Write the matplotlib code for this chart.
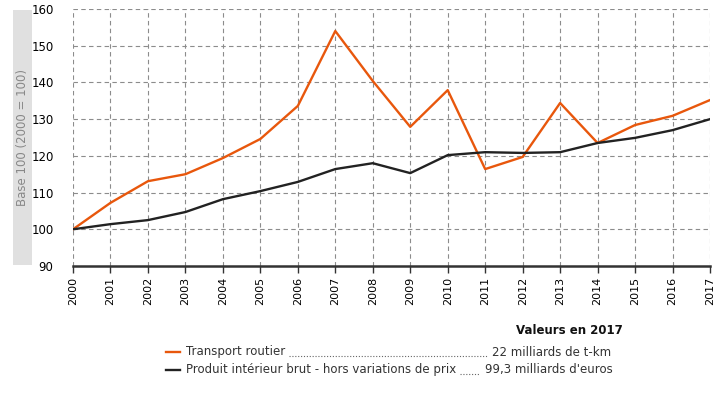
import matplotlib.pyplot as plt
from matplotlib.lines import Line2D
from matplotlib.patches import Rectangle

plt.rcParams['font.family'] = 'DejaVu Sans'

years = list(range(2000, 2018))
transport = [100, 107.2, 113.1, 115.0, 119.4, 124.6, 133.6, 154.0, 140.4, 127.9,
             137.9, 116.4, 119.7, 134.4, 123.5, 128.4, 130.9, 135.2]
pib = [100, 101.4, 102.5, 104.7, 108.2, 110.4, 112.9, 116.4, 118.0, 115.3,
       120.2, 121.0, 120.8, 121.0, 123.5, 124.9, 127.0, 130.0]
series_labels = ['Transport routier',
                 'Produit intérieur brut - hors variations de prix']
values_2017 = ['22 milliards de t-km', "99,3 milliards d'euros"]
colors = ['#e8570c', '#222222']

W, H = 720, 400
fig = plt.figure(figsize=(7.2, 4.0), dpi=100)
ax = fig.add_axes([73 / W, 1 - 266 / H, (710 - 73) / W, (266 - 9) / H])

ax.plot(years, transport, color=colors[0], lw=1.7, zorder=3)
ax.plot(years, pib, color=colors[1], lw=1.7, zorder=3)

ax.set_xlim(2000, 2017)
ax.set_ylim(90, 160)
ax.set_xticks(years)
ax.set_xticklabels([str(y) for y in years], rotation=90, fontsize=8)
ax.set_yticks(range(90, 161, 10))
ax.tick_params(axis='y', length=0, labelsize=8.5, pad=14)
ax.tick_params(axis='x', length=5, width=1, color='#333333', pad=3)
ax.grid(True, color='#8c8c8c', ls=(0, (4, 3)), lw=0.8)
for s in ['left', 'right', 'top']:
    ax.spines[s].set_visible(False)
ax.spines['bottom'].set_color('#333333')
ax.spines['bottom'].set_linewidth(1.8)
ax.spines['bottom'].set_zorder(4)

# y label in grey box
fig.patches.append(Rectangle((13 / W, 1 - 265 / H), 19 / W, 255 / H,
                             transform=fig.transFigure, facecolor='#e0e0e0',
                             edgecolor='none'))
fig.text(22.5 / W, 1 - 137 / H, 'Base 100 (2000 = 100)', rotation=90,
         ha='center', va='center', fontsize=8.5, color='#888888')

# legend block
fig.text(623 / W, 1 - 331 / H, 'Valeurs en 2017', ha='right', va='center',
         fontsize=8.5, fontweight='bold', color='#111111')
rows = [352, 370]
dot_start = [289, 460]
dot_end = [488, 479]
val_x = [492, 485]
for i in range(2):
    yy = 1 - rows[i] / H
    fig.add_artist(Line2D([166 / W, 180 / W], [yy, yy], color=colors[i],
                          lw=1.7, transform=fig.transFigure))
    fig.text(186 / W, yy, series_labels[i], ha='left', va='center',
             fontsize=8.5, color='#333333')
    fig.add_artist(Line2D([dot_start[i] / W, dot_end[i] / W],
                          [yy - 4 / H, yy - 4 / H], color='#666666', lw=0.8,
                          ls=(0, (1, 1.6)), transform=fig.transFigure))
    fig.text(val_x[i] / W, yy, values_2017[i], ha='left', va='center',
             fontsize=8.5, color='#333333')

fig.savefig('out.png', dpi=100)
